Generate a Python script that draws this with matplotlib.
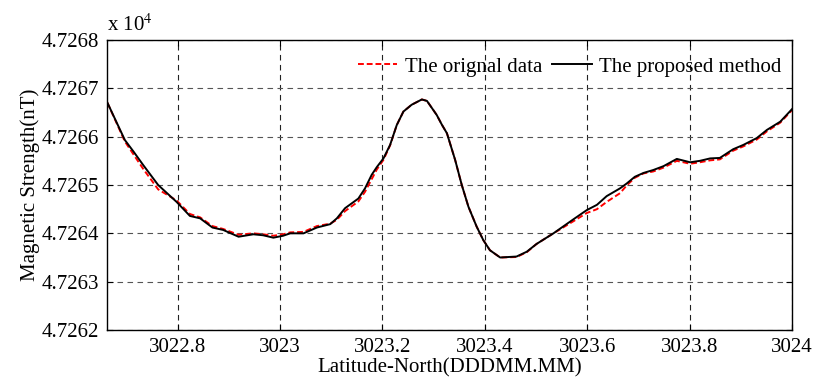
import matplotlib
matplotlib.use("Agg")
import matplotlib.pyplot as plt

plt.rcParams['font.family'] = ['Liberation Serif', 'DejaVu Serif']
plt.rcParams['mathtext.fontset'] = 'stix'

# Latitude (DDDMM.MM)
lat = [3022.663, 3022.697, 3022.714, 3022.733, 3022.762, 3022.798, 3022.824,
       3022.844, 3022.868, 3022.889, 3022.919, 3022.948, 3022.967, 3022.987,
       3023.006, 3023.020, 3023.046, 3023.072, 3023.098, 3023.111, 3023.127,
       3023.153, 3023.166, 3023.179, 3023.189, 3023.202, 3023.215, 3023.228,
       3023.241, 3023.257, 3023.277, 3023.287, 3023.306, 3023.316, 3023.326,
       3023.342, 3023.355, 3023.368, 3023.384, 3023.397, 3023.410, 3023.430,
       3023.462, 3023.482, 3023.501, 3023.534, 3023.573, 3023.599, 3023.619,
       3023.638, 3023.664, 3023.677, 3023.693, 3023.710, 3023.729, 3023.749,
       3023.775, 3023.801, 3023.820, 3023.840, 3023.859, 3023.885, 3023.905,
       3023.931, 3023.951, 3023.977, 3024.000]

# The proposed method (nT)
proposed = [47266.70, 47265.93, 47265.69, 47265.41, 47265.00, 47264.65, 47264.36,
            47264.31, 47264.12, 47264.07, 47263.93, 47263.98, 47263.96, 47263.91,
            47263.95, 47264.00, 47264.00, 47264.12, 47264.19, 47264.31, 47264.52,
            47264.72, 47264.93, 47265.21, 47265.37, 47265.55, 47265.83, 47266.24,
            47266.52, 47266.66, 47266.77, 47266.74, 47266.45, 47266.25, 47266.07,
            47265.52, 47265.00, 47264.55, 47264.14, 47263.86, 47263.65, 47263.50,
            47263.52, 47263.62, 47263.78, 47264.00, 47264.29, 47264.48, 47264.59,
            47264.77, 47264.93, 47265.03, 47265.17, 47265.25, 47265.31, 47265.39,
            47265.54, 47265.47, 47265.50, 47265.55, 47265.56, 47265.74, 47265.83,
            47265.97, 47266.14, 47266.31, 47266.57]

# The original data (nT)
original = [47266.70, 47265.90, 47265.63, 47265.33, 47264.91, 47264.68, 47264.40,
            47264.33, 47264.15, 47264.09, 47263.97, 47264.00, 47263.98, 47263.95,
            47263.98, 47264.02, 47264.03, 47264.15, 47264.20, 47264.28, 47264.46,
            47264.66, 47264.86, 47265.12, 47265.32, 47265.52, 47265.82, 47266.24,
            47266.52, 47266.66, 47266.77, 47266.74, 47266.45, 47266.25, 47266.07,
            47265.52, 47265.00, 47264.55, 47264.14, 47263.86, 47263.65, 47263.50,
            47263.51, 47263.61, 47263.78, 47264.00, 47264.25, 47264.42, 47264.50,
            47264.65, 47264.83, 47264.99, 47265.15, 47265.24, 47265.28, 47265.36,
            47265.50, 47265.44, 47265.47, 47265.51, 47265.53, 47265.71, 47265.80,
            47265.94, 47266.11, 47266.29, 47266.55]

xticks = [3022.8, 3023.0, 3023.2, 3023.4, 3023.6, 3023.8, 3024.0]
xticklabels = ['3022.8', '3023', '3023.2', '3023.4', '3023.6', '3023.8', '3024']
yticks = [47262, 47263, 47264, 47265, 47266, 47267, 47268]
yticklabels = ['4.7262', '4.7263', '4.7264', '4.7265', '4.7266', '4.7267', '4.7268']

fig = plt.figure(figsize=(8.14, 3.8), dpi=100)
ax = fig.add_axes([0.1314, 0.1316, 0.8416, 0.7631])

ax.plot(lat, original, color='red', linestyle=(0, (3, 1.5)), linewidth=1.4,
        label='The orignal data')
ax.plot(lat, proposed, color='black', linewidth=1.4, label='The proposed method')

ax.set_xlim(3022.662, 3024.0)
ax.set_ylim(47262, 47268)
ax.set_xticks(xticks)
ax.set_xticklabels(xticklabels)
ax.set_yticks(yticks)
ax.set_yticklabels(yticklabels)

ax.tick_params(direction='in', top=True, right=True, labelsize=15, length=4,
               width=0.8, pad=6)
for s in ax.spines.values():
    s.set_linewidth(1.0)

ax.xaxis.grid(True, color='#222222', linestyle=(0, (5, 4)), linewidth=0.8)
ax.yaxis.grid(True, color='#555555', linestyle=(0, (5, 4)), linewidth=0.8)

ax.set_xlabel('Latitude-North(DDDMM.MM)', fontsize=15, labelpad=1)
ax.set_ylabel('Magnetic Strength(nT)', fontsize=15, labelpad=1)

fig.text(0.1314, 0.905, r'x 10$^{4}$', fontsize=15, ha='left', va='bottom')

leg = ax.legend(loc='upper right', ncol=2, frameon=False, fontsize=15,
                handlelength=1.9, handletextpad=0.35, columnspacing=0.5,
                borderaxespad=0.0, bbox_to_anchor=(0.997, 0.97))

fig.savefig('out.png', dpi=100)
